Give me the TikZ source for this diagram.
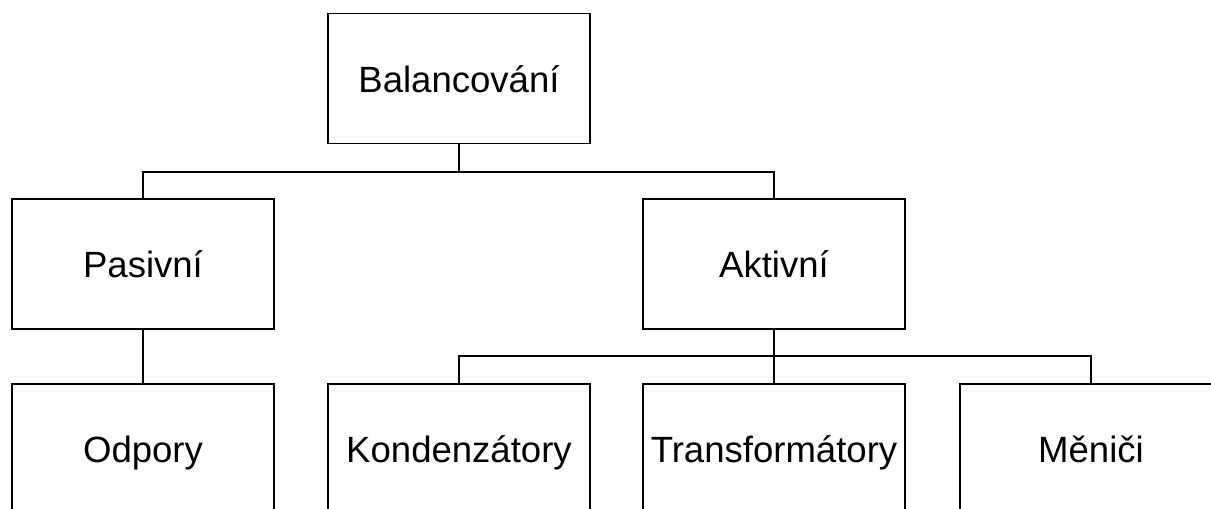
\documentclass[tikz,border=0pt]{standalone}
\usepackage{fontspec}
\setmainfont{Liberation Sans}

\def \boxwidth {262}
\def \boxheight {130}

\tikzset{
  box/.style={draw, rectangle, line width=1.1pt, inner sep=0pt,
    minimum width=\boxwidth*0.02cm, minimum height=\boxheight*0.02cm,
    text height=15.5pt, text depth=0pt,
    font=\fontsize{20.8}{24}\selectfont},
  link/.style={line width=1.1pt}
}

\begin{document}
\begin{tikzpicture}[x=0.02cm, y=-0.02cm]
\useasboundingbox (0,0) rectangle (1211,508);
\clip (0,0) rectangle (1211,508);
\draw (459,78.5) node[box] (bal) {Balancování}; % root
\draw (143,264) node[box] (pas) {Pasivní};
\draw (774,264) node[box] (akt) {Aktivní};
\draw (143,449) node[box] (odp) {Odpory};
\draw (459,449) node[box] (kon) {Kondenzátory};
\draw (774,449) node[box] (tra) {Transformátory};
\draw (1091,449) node[box] (men) {Měniči};
\coordinate (bus1) at (459,172);
\coordinate (bus2) at (774,356);
\draw[link] (bal.south) -- (bus1);
\draw[link] (pas.north) |- (bus1) -| (akt.north);
\draw[link] (pas.south) -- (odp.north);
\draw[link] (akt.south) -- (bus2);
\draw[link] (kon.north) |- (bus2) -| (men.north);
\draw[link] (bus2) -- (tra.north);
\end{tikzpicture}
\end{document}
